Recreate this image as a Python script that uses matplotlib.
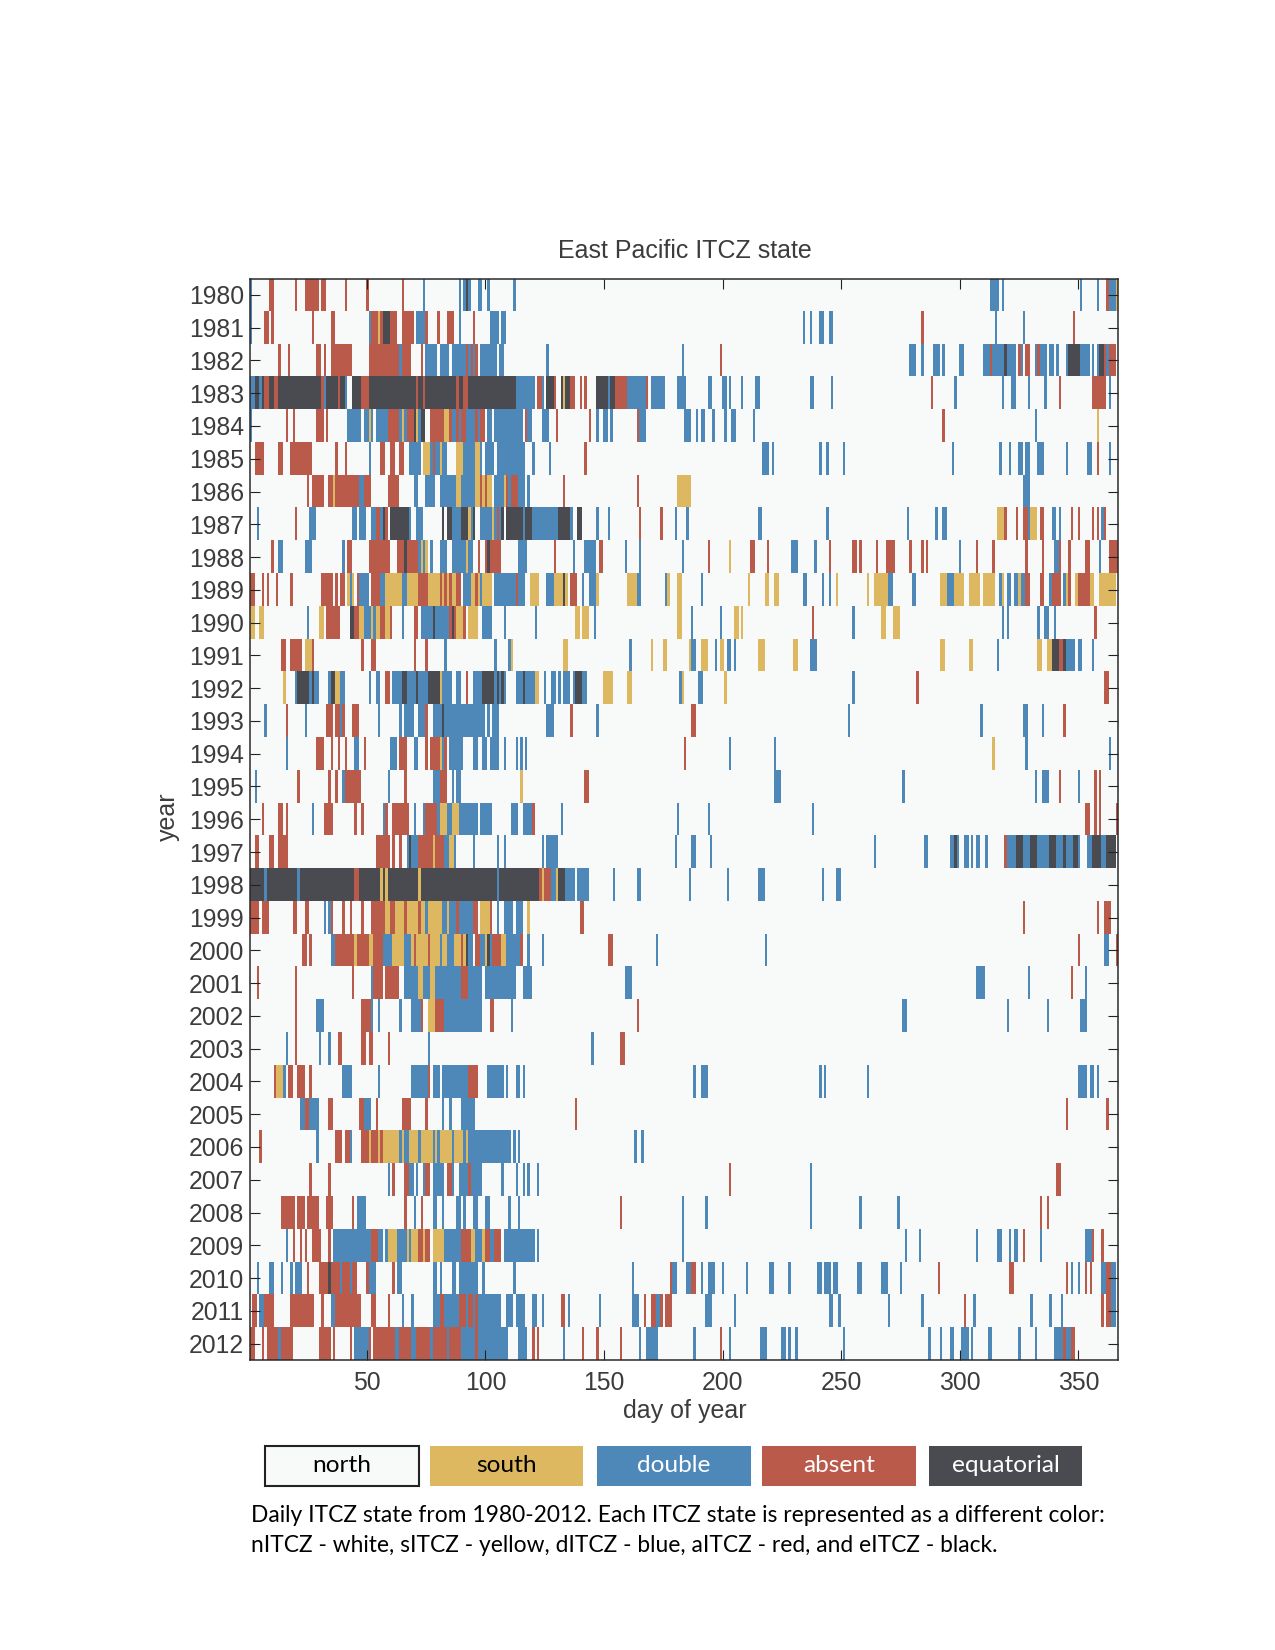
"""
Daily East Pacific ITCZ state 1980-2012, one row per year.
Each year is a list of runs: state letter + first day - last day (north is the rest).
  s south, d double, a absent, e equatorial
"""
import numpy as np
import matplotlib
matplotlib.use("Agg")
import matplotlib.pyplot as plt
from matplotlib.colors import ListedColormap
from matplotlib.patches import Rectangle

# ---------------------------------------------------------------------------
# Data
# ---------------------------------------------------------------------------
Y1980 = "d1 a9-10 a20 a24-29 a31-32 a41 a50 a65 d74 d89 d91 e92 d93 d97-98 d101 d112 d313-316 d318 d351 d358 a362 d363-365 s366"
Y1981 = "d1 a7-8 a10 a27 a35-36 d51 a52-54 s55 a56 e57-59 a60 a61-62 a65-69 d71-74 a75 a80 a84-86 d89 a95 d102-105 d107-108 d234 d237 d241-242 d245-246 a284 d315 d327 a348"
Y1982 = "a13 a17 a29-30 a32 a35-43 a51-63 d64 a65-68 a73 d75-79 d81-84 d86-91 a92 d93-94 a94 d95 a96 d98-104 d106-107 d126 d183 a199 d279-281 d284 d289-291 d293 d300-301 d310-312 a313 d314-318 e319 d320-323 a325 d326 a328-329 d332 a333 d334-336 d338-339 d341 d345 e346-350 d351-354 d356 d358 e359-360 a361 d362 a363-365"
Y1983 = "d1-2 e3-4 d5 e6 a7-8 e9-10 a11-12 e13-30 a31 d32 e33-37 a38 e39 d40 e40 d41 e44-47 a48-50 e51-70 a71 e72-73 a74 e75-87 a88 e89-90 a91-92 e93-112 d113-120 a122-123 d124 e126-128 a129 e132 s133 e134-135 a136-137 a140 a142 e147-151 d152 e153-154 a155-159 d160-167 a168 d170-175 d181-184 d194-195 d200-201 d203 d208 d214-215 d237-238 d246 a288 d298 d318 d322-323 d329 d336 a342 a356-361 d363"
Y1984 = "d1 a16 a19 a29-31 a33 d42-47 d49-50 s51 d52 d54-58 a59-63 d64 s65 d66 a67-69 e70 s71 d72 e73-74 a77-82 s83-84 a85 d86-87 a88 d89 a90-91 d92-95 a96 d97 a98-99 d101-102 d104-115 a117 d118-119 d124-126 a130 a144 d147 d150-151 d153 a164 d165-167 d184-186 d189 d191-192 d196 d201 d204-205 d213 a293 d332 s358"
Y1985 = "a3-6 a13-14 a18-26 a37 a41 d51 a56-57 a60 a61 a64-65 d68-72 s74-76 d77 a78 d79-80 s81 d82-83 s88-90 d91-95 s96-97 d98 d100-103 d105-108 d109-112 d113-116 d120 d127 a142 d217-219 d221 d241 d244 d251 d297 d317 d321 d325-326 d328-329 d333-335 d345 d354-355 a358 d363"
Y1986 = "a25 a27-31 a34-35 s36 a37-46 d47-48 a49-51 a59-63 d70-71 d75-78 d81-87 s88-89 d90-95 s96-97 a98 s99 a100 s101-102 d104-107 s108 a109 d110 a111-113 d114-116 d118 a133 a164 s181-186 d327-329"
Y1987 = "d4 a20 d26-28 d44-45 d47-49 d52-53 a54-55 d56 e57 a58 e60-67 d68 d71-73 e82 e84-85 d86-89 e90-92 s93 d94 e95 d98-102 s103 d104 a105 d106 e107 e109-115 d116 e117-119 d120-130 e131-135 d136 e139-140 d147 d152 a165 a174 d180 d185 d215-216 d244 d278 d290 d293-294 s316-318 a319 a324 a327-328 d329 s330-332 a334-335 d339-340 d342 a347 a350 a356 a358 d360 a361"
Y1988 = "a10 d13-14 d24-26 d40 a42-43 a51-59 a63-65 e66 a67-71 d72 s73 d74 s75 d77 d81-83 d86-91 s92 d93-94 a97 a100 e101 a102 a103-106 d114-117 a129 d137 d142-146 a148-149 d159 d165 d183 a194 s203 a212-213 a219 d229-231 d239 a245 a255-256 a258 a265 a269-272 a279 a284 a286 d300 a307 a314 a328 a335 d340-341 a342 a346 a353-354 d359 a363-366"
Y1989 = "a1-2 a6 a8 a12 a18 a31-35 a37 a39-40 s42 d43 s44 a46 d47-50 a52-55 d56-57 s58-64 d65-66 s67-71 a72-75 s76-80 a81 s82 a83 s84 a85 s86-87 a88-89 d91-93 s94-95 a96 s97 d98 s99-102 d104-112 a113 d114-116 s119-122 d126-128 s129-132 e133 s134 a136-138 d141 d144-146 s147 s160-163 d164-165 d176 s177 s181-182 d191 s211 s218-219 s222-223 d234-235 d242 d245 s248 s261 s264-269 d270-271 d280-281 s292-294 d295-297 s298-301 s304-308 s310-314 d317 s318 d320-321 d323-324 s325 d326-327 a328-329 a334-335 d338 a339-342 d344 s345 a346 s349 a350-354 s355-356 s359-365"
Y1990 = "s1-2 s5-6 d25 s30-31 a33-38 e43-44 a45-46 s47-48 d49-51 s52 d53 s54-55 a56-57 s58-59 a60 d65 a70-71 d73-77 e78 d79-84 a85 e86 a87 s88-90 a91 s93-96 d99-102 d108 d121 s138-139 s141-143 d146 s181-182 d187 d199 s205-206 s208 a238 d255 s267-268 s272-274 d318 d320 d333 d336-337 d340 a357"
Y1991 = "a14-15 a18-22 s24-26 a27 a48 a52-53 a70 a75 d83 d104 d110 s111 s133-134 d161 s170 s175-176 s186 d187-188 s191-193 d197 s199-200 d202-203 d205 s215-217 s230-231 d237-239 s292-293 s304-305 d316 s333-334 s337-338 e339-341 a342-343 e344 d345-348 d350-351 d356"
Y1992 = "s15 d20 e21-25 d26 e27 d28-29 d34 e35-36 s37-38 d39-40 d51 d54-55 a58-59 d61-64 e65-66 d67-70 e71 d72-75 e76-80 s81 d82-85 d88-89 a92 d95-98 e99-103 d104 e105 d106 e107 d108 d113-115 e116 d117-120 s121-122 d125 d128-129 d131 d133-135 d137 e138-140 d141-142 s150-153 s160-161 d182 s183 d190-191 s201 d255 a282 a361-362"
Y1993 = "d7 a16 d24 a33-35 a37-38 d39 a40 a44-46 d55 d64 d66-69 d72-74 a75 d78-81 e82 d83-92 d93-99 d101 d103-105 d126-128 a136 d147 a187-188 d253 d309 d327-328 d335 a344"
Y1994 = "d16 a29-31 a35 a38 a41 d45-46 a49 d60-62 a64-66 d70-71 a75 a77-80 s81 d82 a83 d85-90 d95-96 d99-100 d102-105 d108 d113 d115 d117 a184 d203 d222 s314 d328 d363"
Y1995 = "d3 a21 a34 a37 d40 a41-47 d59 a66 d78-80 a81-83 d86 d88-89 s115 a142-143 d222-224 d276 d332 d335-337 a342 d350 a357 a359"
Y1996 = "a6 a13-14 a16 d27 a32-35 a45 a48 d57 a58 a61-67 d70 d74 a75-79 d80 s81-83 d84-85 s86-88 d89-96 d98-102 d111-113 d116-119 a120 d132 d181 d194 d238 a353-354 a357 a359 a366"
Y1997 = "a3-4 a9-10 a13-15 a16 a54-59 a61 a64 d67 e68 d69-71 a72-77 s78 a79-82 d83-84 s85-86 d87 d95 d105 d108 d124 d126-130 d180 d187-188 d195 d264 d285-286 d296-297 e298 d299 d302-303 d305 d307-308 d311 a319 d320-323 e324-326 d327-329 e330-332 d333-337 e338-340 d341-343 e344 d345-347 e348-349 d350 d354-355 e356-359 d360-361 e362-365"
Y1998 = "e1-6 d7 e8-20 d21 e22-44 a45-46 e47-55 s56 e57 s58 e59-71 s72 e73-104 d105 e106-122 a123 s124 a125-127 d128-129 s130 e131-133 d134-137 d139-143 d154 d164-165 d186 d202 d215-217 d242 d248-249"
Y1999 = "a1-4 a6-8 a19-20 a24-25 d32 d34 a35 a40 a43 a48 a52-57 s58-59 a60-61 s62-65 a66 s67-71 a72 s73-74 d75 s76-81 d82-83 s84 d85-87 a88 d89-94 a95-96 s98-101 a102 d105 d108-111 d113-115 s118 a140-141 a327 a358 a361-363"
Y2000 = "a23-24 a26 d35-36 a37-44 s45 a46-50 s51-52 a53-56 d57-60 s61-65 d66-68 s69 a70 s71-75 a76 s77-80 d81 s82-83 d84-86 s87-89 a90 s91 e92 d93-94 a96-97 d98-99 s100 e101 d102 a103-106 s107-108 d109-114 a115 d118 d124 a152-153 d172 d218 a350 d361-362 a366"
Y2001 = "a4 a20 a44 d52 a53-56 a58-60 a61-63 d66-68 d69-71 s72-73 d74-76 s77-78 d79-85 d86-89 a90 d91 a91-92 d93-98 d100-112 d116-119 d159-161 d307-310 d329 a347 d353"
Y2002 = "a20 d29-31 a48-51 d52 d55 d64 d69-72 a73 s76-78 a79-82 d83-97 d98 a102-103 d111 a164 d276-277 d320 d337 d351-353"
Y2003 = "d16 a20 d30 d34 a38-39 a48-49 a51-52 a59 d76 d145 a157-158"
Y2004 = "a11 s12-14 d15 a17-18 a21-23 a26 d40-43 d55 d69-75 a76 d78-80 d82-92 a93-96 d101-107 d109 d113-114 d116 d188 d191-193 d241 d243 d261 d350-353 d355-356 d358"
Y2005 = "d22-23 a24-25 d26-29 a34-35 a47-48 d49-51 a54 a65-68 a75 d82 d85 d90-95 a138 a345 a362"
Y2006 = "a5 d29 a37-39 a41-42 d43 a48-50 s51 a52-54 s55 a56 s57-63 d64 s65 d66-67 s68-71 d72 s73-77 d78 s79 d80 s81-85 d86 s87-90 d91 s92 d93-110 d112 d114 d163 d166"
Y2007 = "a26 a34 d59 a61 a66-67 d68-69 d71 d74 a75-76 d78-82 a84-85 d86 d89-92 a93 d94-98 d107 d113 d116 d118 d122 a203 d237 a341-342"
Y2008 = "a14-19 a21-23 a25-28 a29 a33-35 a44 d46-49 a66 d70 a73 d78-79 d82 d88-89 d91 d95-96 d100-101 d110 d114 a157 d183 d193 d237 d258 d274 a334 a337"
Y2009 = "d16 a19 a22 a24 a27-30 a34 d36-41 d42-51 a52-54 d55-56 d58 s59-62 d63-66 s67 d68 s69-71 a72-73 s74 a75-76 s78-82 d83-89 a90-93 s94-95 d96-98 s99 a100-101 d102-103 a104-106 d108-120 d122 d183 d277 d283 d307 d316-317 d321 d323-324 a327 d334 d353-355 a356 a360"
Y2010 = "d4 d9-10 d14 d18 d20-22 a25 a30-33 e34 a35-38 d39 a40-42 d43 a44-45 a50 d51-53 a61 d63-64 d78-79 d81 d86-87 d89-96 d99 d112 d162 a178 d179-180 d185-186 a187-188 d191 d194-196 d200 d210 d220-221 d228 d240-241 d243-245 d247-248 d257-258 d267-269 d275 a291 a321-322 a345 d347 d350 a353 a355 d360-361 a362-363 d364-365"
Y2011 = "a2-3 d5-6 a7-10 a18-27 a31 d35-36 a37-47 a52-53 a59 d65 d69 d78-80 a81-82 d83-88 a89-91 d92 a93-94 d95 a96 d97-101 d102-105 d106 d109-111 d113-116 d120-121 d124 a132-133 d135 d148 d162-164 a167 a170-171 d172-173 a174 a176-178 d193-195 d205 d245-246 d249 d270 d284 a302 d306 d330 d338 d343 a360 a362-363 d364-365"
Y2012 = "a1-2 a6 a8-12 d13 a14-18 a30-34 a36 a43 d45-50 a51 a53-61 d62-63 a64 a65-68 d69-70 a71-76 d77 a78-83 d84 a85-89 d90-95 a96 d97-109 d114-117 a120 a122 d133 a141 a147 a157 d165 d168-172 d188 a199 d203 d216-218 d225-226 d228 d231 d251 d287 d292 d296-297 d301-303 d305 d312-313 d325 d332 d340-343 a344 d345-346 a347-348"

YEARS = list(range(1980, 2013))
YEAR_RUNS = [Y1980, Y1981, Y1982, Y1983, Y1984, Y1985, Y1986, Y1987, Y1988, Y1989, Y1990,
             Y1991, Y1992, Y1993, Y1994, Y1995, Y1996, Y1997, Y1998, Y1999, Y2000, Y2001,
             Y2002, Y2003, Y2004, Y2005, Y2006, Y2007, Y2008, Y2009, Y2010, Y2011, Y2012]
DAY_TICKS = [50, 100, 150, 200, 250, 300, 350]
STATES = ["north", "south", "double", "absent", "equatorial"]
STATE_CODES = {"n": 0, "s": 1, "d": 2, "a": 3, "e": 4}
COLORS = ["#F8FAFA", "#DDB860", "#4D88B9", "#BA5A4A", "#4A4B50"]
LEGEND_TEXT = ["black", "black", "white", "white", "white"]

W, H = 1275, 1650
TEXT_COLOR = "#3c3c3c"
plt.rcParams["font.family"] = ["Liberation Sans", "DejaVu Sans"]

# ---------------------------------------------------------------------------
# Build the day x year grid
# ---------------------------------------------------------------------------
grid = np.zeros((len(YEARS), 366), dtype=int)
for i, runs in enumerate(YEAR_RUNS):
    for token in runs.split():
        first, _, last = token[1:].partition("-")
        first = int(first)
        last = int(last) if last else first
        grid[i, first - 1:last] = STATE_CODES[token[0]]

# ---------------------------------------------------------------------------
# Figure
# ---------------------------------------------------------------------------
def fx(px):
    return px / W

def fy(py):
    return 1 - py / H

fig = plt.figure(figsize=(W / 100, H / 100), dpi=100)
ax = fig.add_axes([fx(249.5), fy(1360), (1117.5 - 249.5) / W, (1360 - 278.5) / H])
ax.imshow(grid, cmap=ListedColormap(COLORS), vmin=0, vmax=4, aspect="auto",
          interpolation="nearest", extent=[0.5, 366.5, YEARS[-1] + 0.5, YEARS[0] - 0.5])

ax.set_xticks(DAY_TICKS)
ax.set_yticks(YEARS)
ax.tick_params(axis="both", direction="in", length=7.5, width=0.8, color="#222222",
               top=True, right=True, labelsize=17.8, labelcolor=TEXT_COLOR)
ax.tick_params(axis="x", pad=8)
ax.tick_params(axis="y", pad=4)
for spine in ax.spines.values():
    spine.set_linewidth(1.1)
    spine.set_color("#2a2a2a")

fig.text(fx(685), fy(251.5), "East Pacific ITCZ state", fontsize=18, color=TEXT_COLOR,
         ha="center", va="center")
fig.text(fx(685), fy(1411), "day of year", fontsize=18, color=TEXT_COLOR,
         ha="center", va="center")
fig.text(fx(168), fy(817), "year", fontsize=18, color=TEXT_COLOR, rotation=90,
         ha="center", va="center")

# Legend boxes
BOX_LEFT = [265, 430, 597, 762, 929]
BOX_RIGHT = [419, 583, 751, 916, 1082]
for name, col, tcol, x0, x1 in zip(STATES, COLORS, LEGEND_TEXT, BOX_LEFT, BOX_RIGHT):
    is_north = name == "north"
    fig.add_artist(Rectangle((fx(x0), fy(1485.5)), (x1 - x0) / W, 39.5 / H,
                             transform=fig.transFigure, facecolor=col,
                             edgecolor="#222222" if is_north else col,
                             linewidth=1.5 if is_north else 0))
    fig.text(fx((x0 + x1) / 2), fy(1466), name, fontsize=17.6, color=tcol, ha="center",
             va="center", family="Lato")

# Caption
fig.text(fx(251), fy(1516), "Daily ITCZ state from 1980-2012. Each ITCZ state is represented as a different color:",
         fontsize=16.4, color="black", ha="left", va="center", family="Lato")
fig.text(fx(251), fy(1546), "nITCZ - white, sITCZ - yellow, dITCZ - blue, aITCZ - red, and eITCZ - black.",
         fontsize=16.4, color="black", ha="left", va="center", family="Lato")

fig.savefig("out.png", dpi=100)
plt.close(fig)
